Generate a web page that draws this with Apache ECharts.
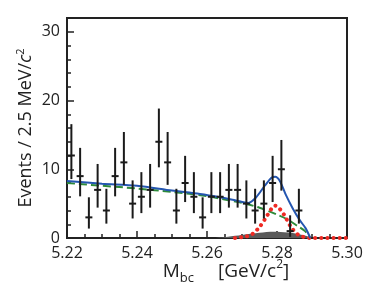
<!DOCTYPE html>
<html><head><meta charset="utf-8">
<script src="https://cdn.jsdelivr.net/npm/echarts@6/dist/echarts.min.js"></script>
<style>html,body{margin:0;padding:0;background:#fff}#c{width:382px;height:289px}</style>
</head><body><div id="c"></div>
<script>
// Data points (bin centres, counts, Poisson errors)
const binCenters = [5.22125,5.22375,5.22625,5.22875,5.23125,5.23375,5.23625,5.23875,5.24125,5.24375,5.24625,5.24875,5.25125,5.25375,5.25625,5.25875,5.26125,5.26375,5.26625,5.26875,5.27125,5.27375,5.27625,5.27875,5.28125,5.28375,5.28625,5.28875,5.29125,5.29375,5.29625,5.29875];
const counts = [12,9,3,7,4,9,11,5,6,7,14,11,4,8,6,3,6,6,7,7,5,4,5,8,10,1,4,0,0,0,0,0];
const errLo = [3.43,2.94,1.63,2.58,1.91,2.94,3.27,2.16,2.38,2.58,3.72,3.27,1.91,2.77,2.38,1.63,2.38,2.38,2.58,2.58,2.16,1.91,2.16,2.77,3.11,0.83,1.91,0,0,0,0,0];
const errHi = [4.56,4.11,2.92,3.77,3.16,4.11,4.42,3.38,3.58,3.77,4.83,4.42,3.16,3.95,3.58,2.92,3.58,3.58,3.77,3.77,3.38,3.16,3.38,3.95,4.26,2.30,3.16,0,0,0,0,0];

// Fit curves
const totalX = [5.22,5.23,5.24,5.25,5.258,5.264,5.268,5.2718,5.274,5.2765,5.2785,5.2795,5.2808,5.2825,5.2845,5.2865,5.2882,5.2895];
const totalY = [8.3,7.9,7.6,6.9,6.4,5.9,5.5,5.1,5.9,7.6,8.8,8.9,8.3,6.3,4.3,2.6,1.4,0];
const bkgX = [5.22,5.23,5.24,5.25,5.26,5.265,5.27,5.275,5.28,5.283,5.286,5.288,5.2895];
const bkgY = [8.0,7.6,7.2,6.7,6.1,5.6,5.1,4.4,3.4,2.7,1.7,1.0,0];
const sigX = [5.268,5.271,5.273,5.275,5.277,5.2785,5.2795,5.2805,5.282,5.284,5.286,5.288,5.29,5.30];
const sigY = [0,0.2,0.6,1.6,3.1,4.3,4.7,4.4,3.4,1.6,0.5,0.1,0,0];
const peakX = [5.262,5.266,5.27,5.275,5.279,5.283,5.286,5.2885,5.2895];
const peakY = [0,0.2,0.45,0.75,0.9,0.8,0.6,0.3,0];

const xTicks = [5.22,5.24,5.26,5.28,5.30];
const yTicks = [0,10,20,30];

const zip = (a,b)=>a.map((v,i)=>[v,b[i]]);
const FONT = 'Open Sans';
const chart = echarts.init(document.getElementById('c'), null, {renderer:'canvas'});
chart.setOption({
  animation:false,
  grid:{left:67,right:35,top:18,bottom:51,outerBoundsMode:'none',containLabel:false,
    show:true,borderColor:'#222',borderWidth:2,backgroundColor:'transparent'},
  xAxis:{type:'value',min:5.22,max:5.30,interval:0.02,nameMoveOverlap:false,
    axisLine:{show:true,lineStyle:{color:'#222',width:2}},
    axisTick:{inside:true,length:7,lineStyle:{color:'#222',width:1.5}},
    minorTick:{show:true,splitNumber:4,length:4,lineStyle:{color:'#222',width:1.5}},
    splitLine:{show:false},
    axisLabel:{color:'#222',fontFamily:FONT,fontSize:16,margin:7,
      formatter:v=>{const t=xTicks.find(k=>Math.abs(k-v)<1e-6);return t===undefined?'':t.toFixed(2);}},
    name:'{m|M}{sub|bc}{gap|}{m|[GeV/}{m|c}{sup|2}{m|]}',nameLocation:'middle',nameGap:21,
    nameTextStyle:{fontFamily:FONT,color:'#222',lineHeight:26,padding:[0,0,0,38],
      rich:{m:{fontSize:19,fontFamily:FONT,color:'#222',verticalAlign:'middle'},
            gap:{width:24},
            sub:{fontSize:13,fontFamily:FONT,color:'#222',verticalAlign:'bottom',padding:[9,0,0,0]},
            sup:{fontSize:12,fontFamily:FONT,color:'#222',verticalAlign:'top',padding:[0,0,9,0]}}}
  },
  yAxis:{type:'value',min:0,max:32,interval:10,nameMoveOverlap:false,
    axisLine:{show:true,lineStyle:{color:'#222',width:2}},
    axisTick:{inside:true,length:7,lineStyle:{color:'#222',width:1.5}},
    minorTick:{show:true,splitNumber:5,length:4,lineStyle:{color:'#222',width:1.5}},
    splitLine:{show:false},
    axisLabel:{color:'#222',fontFamily:FONT,fontSize:16,margin:7,
      formatter:v=>yTicks.includes(v)?String(v):''},
    name:'{m|Events / 2.5 MeV/}{i|c}{sup|2}',nameLocation:'middle',nameGap:30,
    nameTextStyle:{fontFamily:FONT,color:'#222',lineHeight:22,
      rich:{m:{fontSize:18,fontFamily:FONT,color:'#222',verticalAlign:'middle'},
            i:{fontSize:18,fontFamily:FONT,fontStyle:'italic',color:'#222',verticalAlign:'middle'},
            sup:{fontSize:11,fontFamily:FONT,color:'#222',verticalAlign:'top',padding:[0,0,8,0]}}}
  },
  series:[
    {type:'line',data:zip(peakX,peakY),showSymbol:false,smooth:0.3,lineStyle:{width:0},
     areaStyle:{color:'#5a5a5a',opacity:1},z:2},
    {type:'line',data:zip(bkgX,bkgY),showSymbol:false,smooth:0.3,
     lineStyle:{color:'#2e8b3a',width:2,type:[8,4]},z:3},
    {type:'line',data:zip(sigX,sigY),showSymbol:false,smooth:0.3,
     lineStyle:{color:'#ee2a24',width:4,type:[0.1,6],cap:'round'},z:4},
    {type:'line',data:zip(totalX,totalY),showSymbol:false,smooth:0.3,
     lineStyle:{color:'#2456b0',width:2},z:5},
    {type:'custom',z:6,
     data:binCenters.map((x,i)=>[x,counts[i],errLo[i],errHi[i]]),
     renderItem:(params,api)=>{
       const x=api.value(0),y=api.value(1),lo=api.value(2),hi=api.value(3);
       if(y<=0) return null;
       const c=api.coord([x,y]),t=api.coord([x,y+hi]),b=api.coord([x,Math.max(0,y-lo)]);
       const st={stroke:'#1a1a1a',lineWidth:2};
       return {type:'group',children:[
         {type:'line',shape:{x1:c[0],y1:t[1],x2:c[0],y2:b[1]},style:st},
         {type:'line',shape:{x1:c[0]-3.5,y1:c[1],x2:c[0]+3.5,y2:c[1]},style:st}
       ]};
     }}
  ]
});
</script></body></html>
